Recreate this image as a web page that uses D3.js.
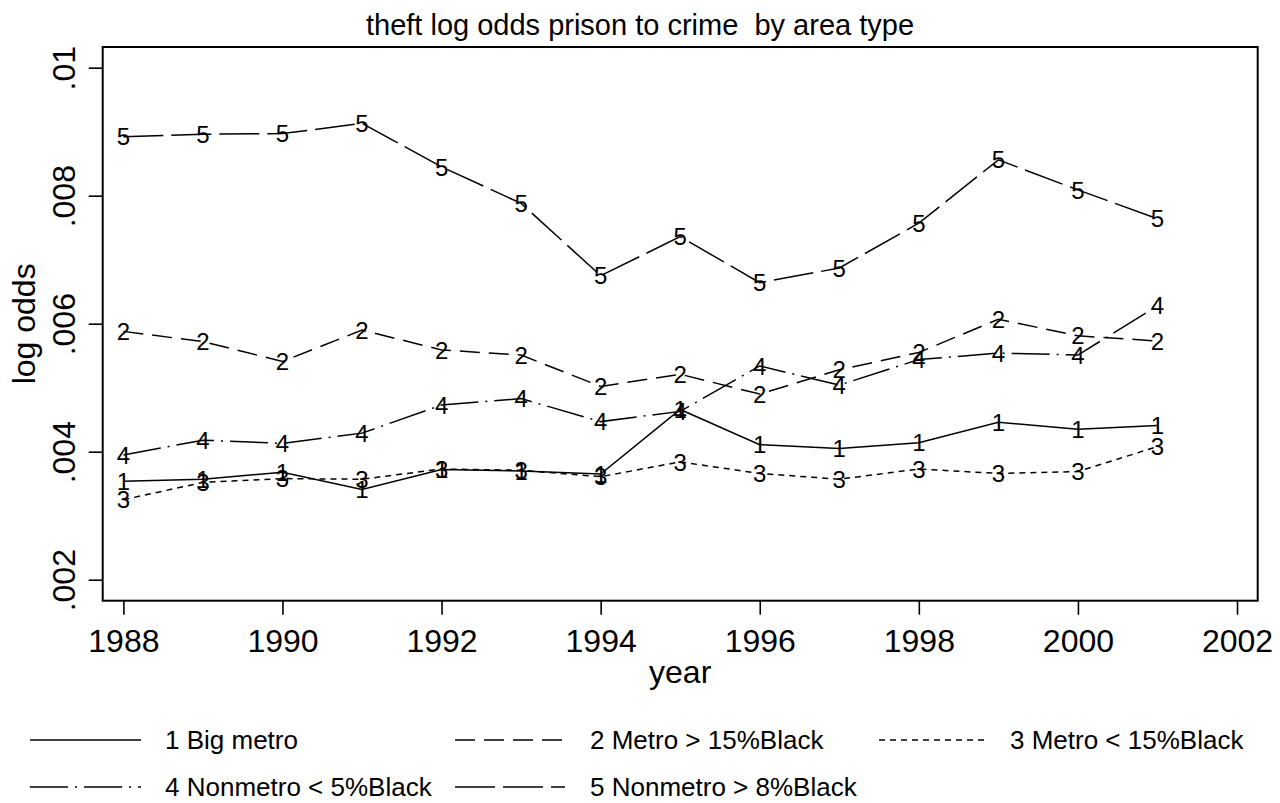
<!DOCTYPE html>
<html>
<head>
<meta charset="utf-8">
<script src="https://cdn.jsdelivr.net/npm/d3@7"></script>
<style>
  body { margin: 0; background: #fff; }
  svg { display: block; }
  text { font-family: Arial, "Liberation Sans", Helvetica, sans-serif; fill: #000; white-space: pre; }
</style>
</head>
<body>
<svg id="chart" width="1280" height="803"></svg>
<script>
// Years observed
const years = [1988, 1989, 1990, 1991, 1992, 1993, 1994, 1995, 1996, 1997, 1998, 1999, 2000, 2001];

// Theft log odds, prison to crime, by area type
const bigMetro        = [0.00354, 0.00357, 0.00368, 0.00341, 0.00372, 0.00370, 0.00365, 0.00466, 0.00411, 0.00405, 0.00414, 0.00446, 0.00435, 0.00441];
const metroHighBlack  = [0.00588, 0.00572, 0.00541, 0.00590, 0.00559, 0.00551, 0.00502, 0.00521, 0.00490, 0.00528, 0.00555, 0.00607, 0.00581, 0.00573];
const metroLowBlack   = [0.00325, 0.00352, 0.00358, 0.00357, 0.00373, 0.00371, 0.00361, 0.00384, 0.00366, 0.00357, 0.00373, 0.00366, 0.00369, 0.00408];
const nonmetroLow     = [0.00395, 0.00418, 0.00413, 0.00429, 0.00473, 0.00483, 0.00447, 0.00463, 0.00534, 0.00504, 0.00544, 0.00554, 0.00551, 0.00628];
const nonmetroHigh    = [0.00892, 0.00896, 0.00897, 0.00913, 0.00845, 0.00788, 0.00675, 0.00736, 0.00664, 0.00687, 0.00757, 0.00856, 0.00809, 0.00764];

const seriesValues = [bigMetro, metroHighBlack, metroLowBlack, nonmetroLow, nonmetroHigh];
const seriesCodes  = ["1", "2", "3", "4", "5"];
const seriesNames  = ["1 Big metro", "2 Metro > 15%Black", "3 Metro < 15%Black", "4 Nonmetro < 5%Black", "5 Nonmetro > 8%Black"];
const seriesDashes = [null, "20,9", "6,5", "38,7,2,7", "40,8"];

const xTickValues = [1988, 1990, 1992, 1994, 1996, 1998, 2000, 2002];
const yTickValues = [0.002, 0.004, 0.006, 0.008, 0.01];
const yTickLabels = [".002", ".004", ".006", ".008", ".01"];

const titleText = "theft log odds prison to crime  by area type";
const xTitle = "year";
const yTitle = "log odds";

// Layout
const plot = { left: 102.7, right: 1257.7, top: 47, bottom: 600.7 };

const svg = d3.select("#chart");

const x = d3.scaleLinear().domain([1987.74, 2002.26]).range([plot.left, plot.right]);
const y = d3.scaleLinear().domain([0.001672, 0.010323]).range([plot.bottom, plot.top]);

// Title
svg.append("text")
  .attr("x", 640).attr("y", 35)
  .attr("text-anchor", "middle")
  .attr("xml:space", "preserve")
  .style("font-size", "29px")
  .text(titleText);

// Y axis
const yAxis = svg.append("g")
  .attr("transform", `translate(${plot.left},0)`)
  .call(d3.axisLeft(y).tickValues(yTickValues).tickFormat((d, i) => yTickLabels[i]).tickSize(14).tickSizeOuter(0));
yAxis.select(".domain").remove();
yAxis.selectAll(".tick line").attr("stroke", "#000").attr("stroke-width", 1.6);
yAxis.selectAll(".tick text")
  .attr("transform", "rotate(-90)")
  .attr("x", 0).attr("y", -28).attr("dy", 0)
  .attr("text-anchor", "middle")
  .style("font-size", "32px");

// X axis
const xAxis = svg.append("g")
  .attr("transform", `translate(0,${plot.bottom})`)
  .call(d3.axisBottom(x).tickValues(xTickValues).tickFormat(d3.format("d")).tickSize(14).tickSizeOuter(0));
xAxis.select(".domain").remove();
xAxis.selectAll(".tick line").attr("stroke", "#000").attr("stroke-width", 1.6);
xAxis.selectAll(".tick text")
  .attr("y", 51.5).attr("dy", 0)
  .style("font-size", "32px");

// Axis titles
svg.append("text")
  .attr("x", (plot.left + plot.right) / 2).attr("y", 683)
  .attr("text-anchor", "middle")
  .style("font-size", "32px")
  .text(xTitle);

svg.append("text")
  .attr("transform", `translate(35,${(plot.top + plot.bottom) / 2}) rotate(-90)`)
  .attr("text-anchor", "middle")
  .style("font-size", "32px")
  .text(yTitle);

// Series lines and marker labels
const line = d3.line().x(d => x(d.year)).y(d => y(d.v));

seriesValues.forEach((vals, s) => {
  const pts = years.map((yr, i) => ({ year: yr, v: vals[i] }));
  svg.append("path")
    .datum(pts)
    .attr("fill", "none")
    .attr("stroke", "#000")
    .attr("stroke-width", 1.5)
    .attr("stroke-dasharray", seriesDashes[s])
    .attr("d", line);
  svg.append("g").selectAll("text")
    .data(pts)
    .join("text")
    .attr("x", d => x(d.year))
    .attr("y", d => y(d.v))
    .attr("dy", "0.36em")
    .attr("text-anchor", "middle")
    .style("font-size", "24px")
    .text(seriesCodes[s]);
});

// Plot frame
svg.append("rect")
  .attr("x", plot.left).attr("y", plot.top)
  .attr("width", plot.right - plot.left).attr("height", plot.bottom - plot.top)
  .attr("fill", "none").attr("stroke", "#000").attr("stroke-width", 2);

// Legend
const legendCols = [
  { x1: 30, x2: 141, tx: 165 },
  { x1: 455, x2: 565, tx: 590 },
  { x1: 879, x2: 989, tx: 1010 }
];
const legendRows = [740, 787];
const legend = svg.append("g");
seriesNames.forEach((name, s) => {
  const col = legendCols[s % 3];
  const ry = legendRows[Math.floor(s / 3)];
  legend.append("line")
    .attr("x1", col.x1).attr("x2", col.x2)
    .attr("y1", ry).attr("y2", ry)
    .attr("stroke", "#000").attr("stroke-width", 1.5)
    .attr("stroke-dasharray", seriesDashes[s]);
  legend.append("text")
    .attr("x", col.tx).attr("y", ry)
    .attr("dy", "0.36em")
    .style("font-size", "26px")
    .text(name);
});
</script>
</body>
</html>
